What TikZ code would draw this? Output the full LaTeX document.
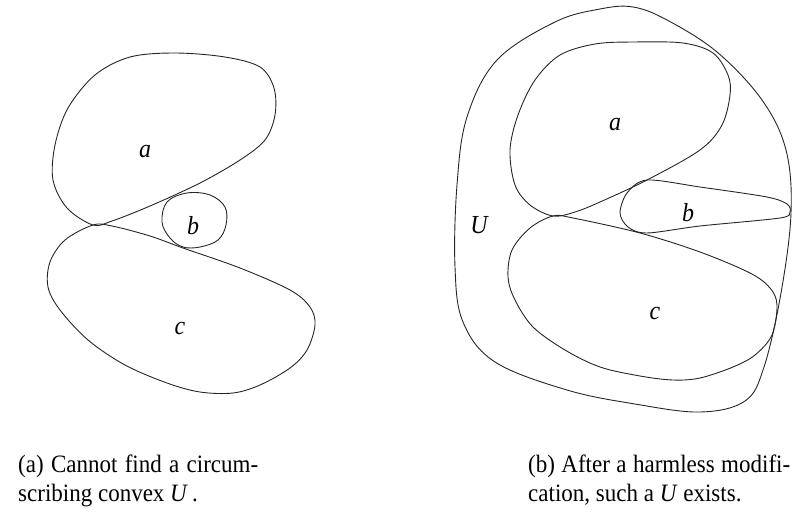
\documentclass[tikz,border=0pt]{standalone}
\usepackage{fontspec}
\setmainfont{Liberation Serif}[FakeStretch=0.92]
\begin{document}
\begin{tikzpicture}[x=1pt,y=-1pt,
  blob/.style={draw=black!85,line width=0.9pt},
  lbl/.style={font=\fontsize{26}{30}\selectfont\itshape,inner sep=0pt},
  capt/.style={font=\fontsize{25}{29}\selectfont,align=justify,inner sep=0pt,anchor=north west}]
\useasboundingbox (0,0) rectangle (793,520);
% ---------- left figure ----------
\draw[blob] plot[smooth cycle,tension=0.55] coordinates {
 (93,225) (67,208) (53,180) (55,145) (68,108) (95,75) (130,57) (175,53)
 (225,57) (260,67) (274,88) (275,115) (265,140) (240,160) (200,183) (150,206) (112,221)};
\draw[blob] plot[smooth cycle,tension=0.6] coordinates {
 (167,202) (187,193) (210,195) (225,207) (226,225) (218,240) (200,247)
 (183,247) (170,238) (162,222)};
\draw[blob] plot[smooth cycle,tension=0.55] coordinates {
 (93,225) (112,226) (150,236) (183,248) (240,268) (290,290) (310,307) (315,325)
 (307,350) (290,368) (260,385) (233,393) (200,392) (167,383) (125,365) (88,340)
 (60,310) (48,287) (50,262) (65,240)};
\node[lbl] (la) at (145,152) {a};
\node[lbl] (lb) at (193,226) {b};
\node[lbl] (lc) at (180,328) {c};
% ---------- right figure ----------
\draw[blob] plot[smooth cycle,tension=0.6] coordinates {
 (633,7) (667,20) (717,52) (762,100) (786,150) (791,213) (781,293) (764,367)
 (745,401) (700,412) (635,404) (567,390) (495,362) (463,322) (455,267) (457,185)
 (467,117) (497,60) (555,22) (600,9)};
\draw[blob] plot[smooth cycle,tension=0.55] coordinates {
 (553,216) (530,205) (515,185) (510,150) (518,115) (535,80) (560,55) (595,44)
 (633,42) (683,43) (713,53) (728,75) (730,95) (722,125) (700,150) (647,180)
 (600,202) (575,212)};
\draw[blob] plot[smooth cycle,tension=0.5] coordinates {
 (620,213) (627,193) (647,180) (700,187) (767,197) (787,204) (790,212) (780,218)
 (700,226) (647,233) (628,227)};
\draw[blob] plot[smooth cycle,tension=0.55] coordinates {
 (553,216) (573,218) (640,233) (700,252) (750,273) (770,288) (777,305) (772,335)
 (755,355) (733,367) (700,378) (673,380) (640,376) (600,367) (565,350) (533,327)
 (515,300) (508,277) (512,250) (530,228)};
\node[lbl] (ra) at (615,125) {a};
\node[lbl] (rb) at (688,213) {b};
\node[lbl] (rc) at (655,313) {c};
\node[lbl] (rU) at (479,225) {U};
% ---------- captions ----------
\node[capt,text width=240pt] (capa) at (18,455)
 {(a) Cannot find a circum-\linebreak scribing convex \textit{U}\,.};
\node[capt,text width=262pt] (capb) at (528,455)
 {(b) After a harmless modifi-\linebreak cation, such a \textit{U} exists.};
\end{tikzpicture}
\end{document}
